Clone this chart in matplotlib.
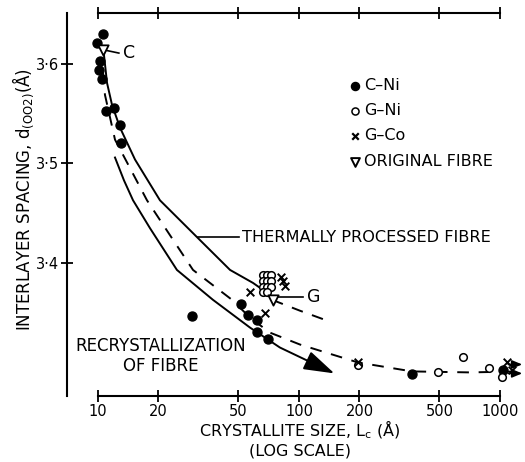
import matplotlib
matplotlib.use("Agg")
import matplotlib.pyplot as plt
from matplotlib.ticker import FixedLocator, NullLocator

plt.rcParams['font.family'] = ['DejaVu Sans']

# Measured points: crystallite size Lc (Å) and interlayer spacing d(002) (Å)
c_ni_L = [10.59, 9.94, 10.29, 10.17, 10.41, 10.96, 12.08, 12.86, 13.01,
          29.5, 51.5, 55.8, 61.6, 61.6, 70.4, 365, 1035]
c_ni_d = [3.630, 3.621, 3.603, 3.594, 3.585, 3.553, 3.556, 3.539, 3.521,
          3.347, 3.359, 3.348, 3.343, 3.331, 3.324, 3.288, 3.292]

g_ni_L = [66.4, 69.5, 72.8, 66.4, 69.5, 72.8, 66.4, 69.5, 72.8, 66.4, 69.5,
          196.6, 491, 654, 881, 1023]
g_ni_d = [3.388, 3.388, 3.388, 3.382, 3.382, 3.382, 3.376, 3.376, 3.376,
          3.371, 3.371, 3.297, 3.290, 3.305, 3.294, 3.285]

g_co_L = [83.2, 81.5, 85.0, 57.0, 67.8, 196.6, 1083, 1147]
g_co_d = [3.382, 3.386, 3.377, 3.371, 3.350, 3.300, 3.300, 3.292]

orig_L = [10.59, 74.0]
orig_d = [3.614, 3.363]

# Hand-fitted trend curves
thermal_L = [10.71, 11.09, 11.74, 12.87, 15.28, 20.34, 31.08, 45.4, 59.0, 71.7]
thermal_d = [3.609, 3.581, 3.559, 3.536, 3.504, 3.463, 3.426, 3.393, 3.380, 3.368]

dash_L = [10.59, 10.83, 12.15, 17.53, 22.8, 29.7, 46.4, 57.1, 71.7, 101.2,
          196.6, 365, 709, 1258]
dash_d = [3.592, 3.569, 3.524, 3.463, 3.428, 3.393, 3.363, 3.345, 3.330,
          3.318, 3.300, 3.291, 3.290, 3.291]

gbranch_L = [73.4, 101.2, 142.6]
gbranch_d = [3.363, 3.352, 3.341]

recryst_L = [12.15, 13.47, 14.94, 18.14, 24.7, 37.3, 57.1, 80.4, 115.0]
recryst_d = [3.506, 3.483, 3.463, 3.435, 3.393, 3.363, 3.335, 3.315, 3.300]
recryst_tip = (150.0, 3.289)

x_ticks = [10, 20, 50, 100, 200, 500, 1000]
y_ticks = [3.4, 3.5, 3.6]
y_ticklabels = ['3·4', '3·5', '3·6']

fig = plt.figure(figsize=(5.25, 4.62), dpi=100)
ax = fig.add_axes([0.1276, 0.1429, 0.863, 0.829])
ax.set_xscale('log')
ax.set_xlim(7.01, 1259)
ax.set_ylim(3.2663, 3.6513)

# Curves
ax.plot(thermal_L, thermal_d, color='black', lw=1.4)
ax.plot(dash_L, dash_d, color='black', lw=1.4, dashes=(6, 5))
ax.plot(gbranch_L, gbranch_d, color='black', lw=1.4, dashes=(6, 5))
ax.plot(recryst_L, recryst_d, color='black', lw=1.4)
ax.annotate('', xy=recryst_tip, xytext=(recryst_L[-1], recryst_d[-1]),
            arrowprops=dict(arrowstyle='-|>,head_length=1.9,head_width=0.6',
                            color='black', lw=1.4, shrinkA=0, shrinkB=0))

# Data markers
ax.scatter(c_ni_L, c_ni_d, s=42, color='black', zorder=4)
ax.scatter(g_ni_L, g_ni_d, s=30, facecolor='white', edgecolor='black',
           linewidth=1.1, zorder=4)
ax.scatter(g_co_L, g_co_d, s=30, marker='x', color='black', linewidth=1.4, zorder=5)
ax.scatter(orig_L, orig_d, s=55, marker='v', facecolor='white',
           edgecolor='black', linewidth=1.3, zorder=5)

# Right-pointing arrows beyond 1000 Å
for yv in (3.298, 3.289):
    ax.annotate('', xy=(1290, yv), xytext=(1100, yv),
                arrowprops=dict(arrowstyle='-|>,head_length=0.6,head_width=0.25',
                                color='black', lw=1.2, shrinkA=0, shrinkB=0),
                annotation_clip=False)

# Point labels
ax.plot([10.8, 12.7], [3.614, 3.611], color='black', lw=1.2)
ax.text(13.3, 3.611, 'C', fontsize=12.5, va='center', ha='left')
ax.plot([74.0, 105.0], [3.366, 3.366], color='black', lw=1.2)
ax.text(110, 3.366, 'G', fontsize=12.5, va='center', ha='left')

ax.plot([31.3, 50.5], [3.426, 3.426], color='black', lw=1.2)
ax.text(52.0, 3.426, 'THERMALLY PROCESSED FIBRE', fontsize=11.6,
        va='center', ha='left')
ax.text(20.6, 3.3065, 'RECRYSTALLIZATION\nOF FIBRE', fontsize=12,
        va='center', ha='center', linespacing=1.1)

# Legend drawn as text entries
leg_d = [3.578, 3.553, 3.528, 3.502]
leg_lbl = ['C–Ni', 'G–Ni', 'G–Co', 'ORIGINAL FIBRE']
leg_x = 190
ax.scatter([leg_x], [leg_d[0]], s=34, color='black')
ax.scatter([leg_x], [leg_d[1]], s=26, facecolor='white', edgecolor='black', linewidth=1.1)
ax.scatter([leg_x], [leg_d[2]], s=22, marker='x', color='black', linewidth=1.6)
ax.scatter([leg_x], [leg_d[3]], s=40, marker='v', facecolor='white', edgecolor='black', linewidth=1.4)
for yv, t in zip(leg_d, leg_lbl):
    ax.text(leg_x * 1.11, yv, t, fontsize=11.5, va='center', ha='left')

# Axes: detached spines with crossing ticks
ax.spines['right'].set_visible(False)
for s in ('left', 'bottom', 'top'):
    ax.spines[s].set_linewidth(1.5)
ax.spines['bottom'].set_bounds(10, 1000)
ax.spines['top'].set_bounds(10, 1000)

ax.xaxis.set_major_locator(FixedLocator(x_ticks))
ax.xaxis.set_minor_locator(NullLocator())
ax.set_xticklabels([str(v) for v in x_ticks])
ax.yaxis.set_major_locator(FixedLocator(y_ticks))
ax.set_yticklabels(y_ticklabels)
ax.tick_params(axis='both', direction='inout', length=9, width=1.3,
               labelsize=10.5, pad=1.0)
ax.tick_params(axis='x', top=True, labeltop=False)

ax.set_xlabel('CRYSTALLITE SIZE, L$_\\mathregular{c}$ (Å)\n(LOG SCALE)',
              fontsize=11.5, linespacing=1.2)
ax.xaxis.set_label_coords(0.514, -0.060, transform=ax.transAxes)
ax.xaxis.label.set_va('top')
ax.set_ylabel('INTERLAYER SPACING, d$_{\\mathregular{(OO2)}}$(Å)', fontsize=12)
ax.yaxis.set_label_coords(-0.068, 0.512, transform=ax.transAxes)

fig.savefig('out.png', dpi=100)
